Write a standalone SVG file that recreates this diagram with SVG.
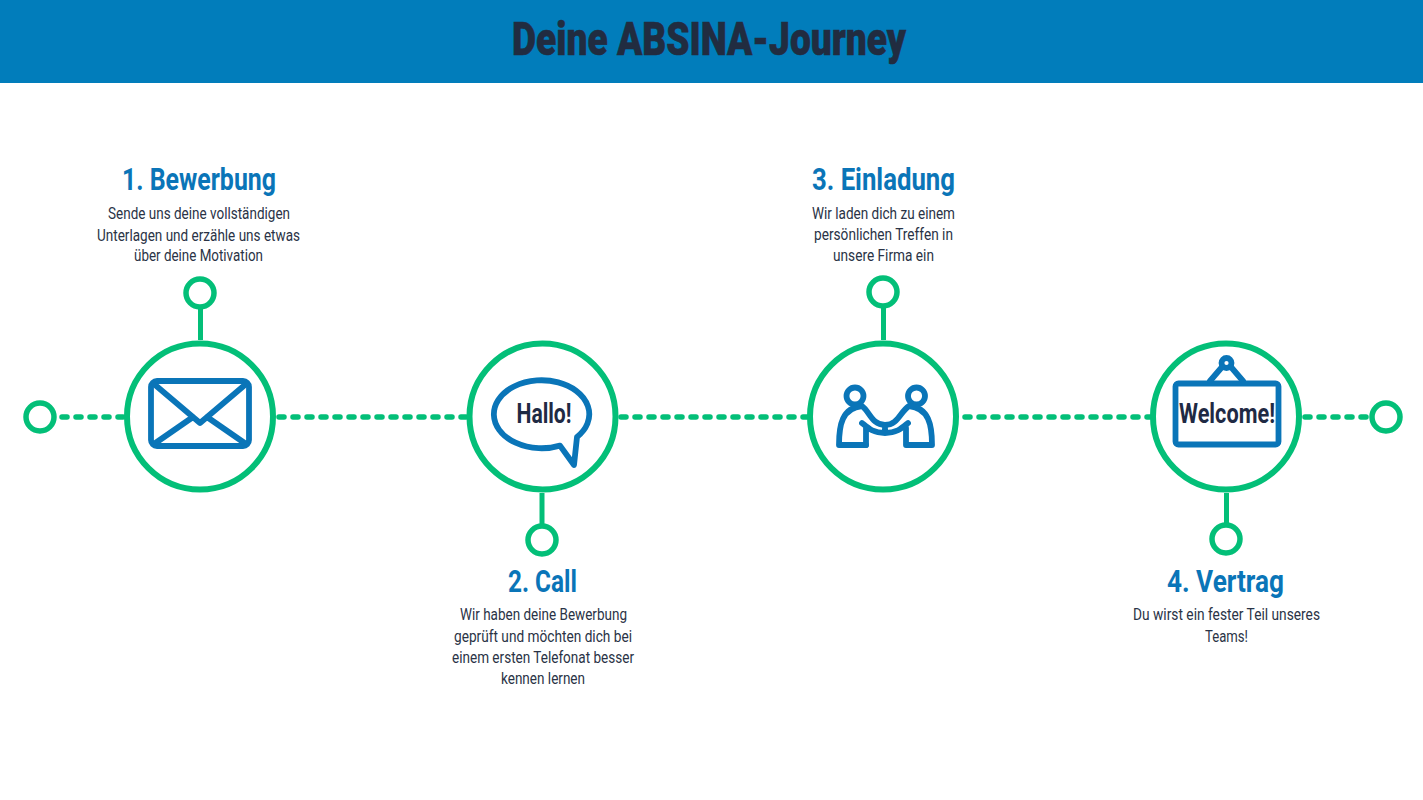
<svg xmlns="http://www.w3.org/2000/svg" width="1423" height="800" viewBox="0 0 1423 800">
<style>
text{font-family:"Roboto","Liberation Sans",sans-serif}
.title{font-size:47px;font-weight:900;fill:#212c40;stroke:#212c40;stroke-width:.6}
.head{font-size:32px;font-weight:700;fill:#0a75b8}
.body{font-size:17px;font-weight:400;fill:#2a3346}
.sign{font-size:28px;font-weight:700;fill:#1f2a44}
.ring{fill:#fff;stroke:#03bf78;stroke-width:6}
.dot{fill:#fff;stroke:#03bf78;stroke-width:5.5}
.stem{fill:none;stroke:#03bf78;stroke-width:5}
.dash{fill:none;stroke:#03bf78;stroke-width:5.5;stroke-dasharray:5 9;stroke-linecap:round}
.ico{fill:none;stroke:#0a75b8;stroke-width:5.8;stroke-linejoin:round;stroke-linecap:round}
</style>
<rect width="1423" height="800" fill="#fff"/>
<rect id="header" width="1423" height="83" fill="#017dbb"/>
<text class="title" x="512" y="55" textLength="394" lengthAdjust="spacingAndGlyphs">Deine ABSINA-Journey</text>
<g id="connectors">
<path class="dash" d="M62,417H124"/>
<path class="dash" d="M279,417H466"/>
<path class="dash" d="M621,417H807"/>
<path class="dash" d="M965,417H1150"/>
<path class="dash" d="M1305,417H1368"/>
<path class="stem" d="M200.500,309V340"/>
<path class="stem" d="M542,493V524"/>
<path class="stem" d="M883.500,308V340"/>
<path class="stem" d="M1226.500,493V523"/>
</g>
<g id="start"><circle class="dot" cx="40" cy="417" r="14"/></g>
<g id="end"><circle class="dot" cx="1386" cy="417" r="14"/></g>
<g id="step1">
<circle class="dot" cx="200" cy="293" r="14"/>
<circle class="ring" cx="200" cy="416.500" r="73"/>
<rect class="ico" x="151" y="381" width="98" height="65" rx="6"/>
<path class="ico" d="M154,384L200,423L246,384M154,444L193,417M246,444L207,417"/>
<text class="head" x="122" y="190" textLength="154" lengthAdjust="spacingAndGlyphs">1. Bewerbung</text>
<text class="body" x="108" y="219" textLength="182" lengthAdjust="spacingAndGlyphs">Sende uns deine vollständigen</text>
<text class="body" x="97" y="241" textLength="203" lengthAdjust="spacingAndGlyphs">Unterlagen und erzähle uns etwas</text>
<text class="body" x="134" y="261" textLength="129" lengthAdjust="spacingAndGlyphs">über deine Motivation</text>
</g>
<g id="step2">
<circle class="dot" cx="542" cy="540" r="14"/>
<circle class="ring" cx="542.500" cy="416.500" r="73"/>
<path class="ico" d="M577,437L574,465L560,445.600A47.700 34 0 1 1 577,437Z"/>
<text class="sign" x="516.500" y="423" textLength="55" lengthAdjust="spacingAndGlyphs">Hallo!</text>
<text class="head" x="508" y="592" textLength="69" lengthAdjust="spacingAndGlyphs">2. Call</text>
<text class="body" x="460" y="620" textLength="167" lengthAdjust="spacingAndGlyphs">Wir haben deine Bewerbung</text>
<text class="body" x="454" y="642" textLength="178" lengthAdjust="spacingAndGlyphs">geprüft und möchten dich bei</text>
<text class="body" x="452" y="663" textLength="182" lengthAdjust="spacingAndGlyphs">einem ersten Telefonat besser</text>
<text class="body" x="501" y="684" textLength="84" lengthAdjust="spacingAndGlyphs">kennen lernen</text>
</g>
<g id="step3">
<circle class="dot" cx="883" cy="292" r="14"/>
<circle class="ring" cx="883" cy="416.500" r="73"/>
<circle class="ico" cx="855" cy="396" r="8.500" stroke-width="5"/>
<circle class="ico" cx="916.500" cy="396" r="8.500" stroke-width="5"/>
<path class="ico" stroke-linecap="butt" d="M866,445H839C839,425 842,408 862,406C870,412 872,425 885,425C898,425 900,412 909,406C929,408 932,425 932,445H906V428"/>
<path class="ico" stroke-linecap="butt" d="M866,445V428M862,423C868,428 873,433 885,433C897,433 902,428 908,423M885,427V433"/>
<text class="head" x="812" y="190" textLength="143" lengthAdjust="spacingAndGlyphs">3. Einladung</text>
<text class="body" x="812" y="219" textLength="143" lengthAdjust="spacingAndGlyphs">Wir laden dich zu einem</text>
<text class="body" x="814" y="240" textLength="139" lengthAdjust="spacingAndGlyphs">persönlichen Treffen in</text>
<text class="body" x="833" y="261" textLength="101" lengthAdjust="spacingAndGlyphs">unsere Firma ein</text>
</g>
<g id="step4">
<circle class="dot" cx="1226" cy="539" r="14"/>
<circle class="ring" cx="1226" cy="416.500" r="73"/>
<rect class="ico" x="1175.500" y="383.500" width="103" height="61" rx="3"/>
<circle class="ico" cx="1226.500" cy="363" r="5" stroke-width="4"/>
<path class="ico" stroke-width="5" stroke-linecap="butt" d="M1210,381L1222,367M1243,381L1231,367"/>
<text class="sign" x="1179" y="423" textLength="96" lengthAdjust="spacingAndGlyphs">Welcome!</text>
<text class="head" x="1167" y="592" textLength="117" lengthAdjust="spacingAndGlyphs">4. Vertrag</text>
<text class="body" x="1133" y="620" textLength="187" lengthAdjust="spacingAndGlyphs">Du wirst ein fester Teil unseres</text>
<text class="body" x="1205" y="642" textLength="43" lengthAdjust="spacingAndGlyphs">Teams!</text>
</g>
</svg>
